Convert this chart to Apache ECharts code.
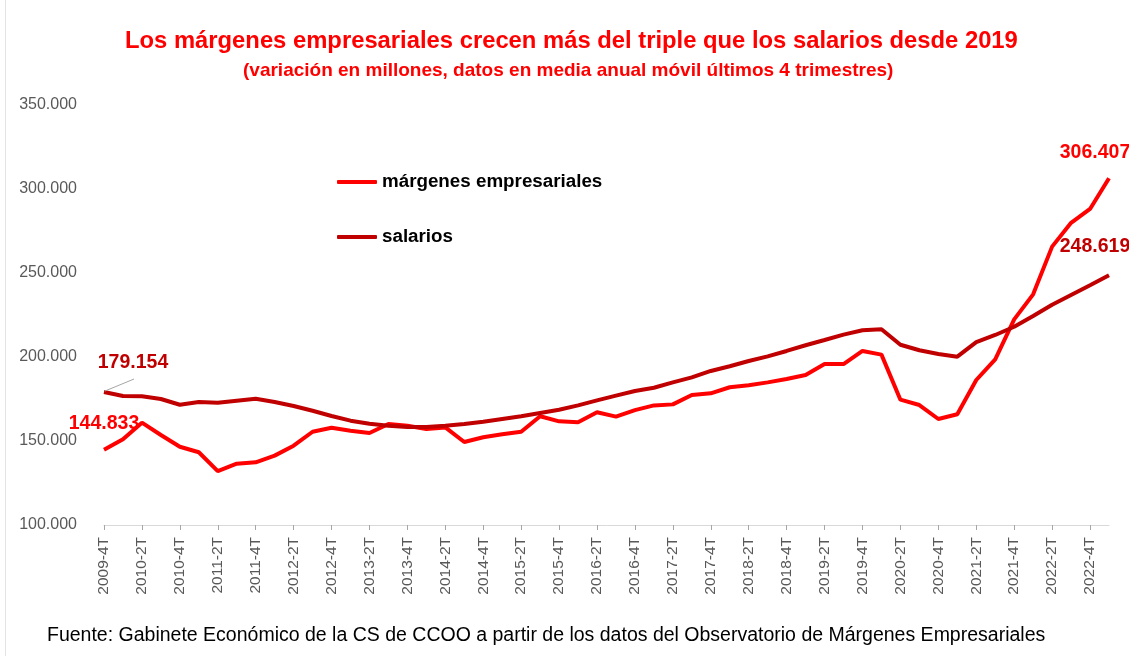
<!DOCTYPE html>
<html>
<head>
<meta charset="utf-8">
<script src="https://cdn.jsdelivr.net/npm/echarts@6/dist/echarts.min.js"></script>
<style>html,body{margin:0;padding:0;background:#fff}#c{width:1129px;height:656px}</style>
</head>
<body>
<div id="c"></div>
<script>
const categories = [
  '2009-4T','2010-1T','2010-2T','2010-3T','2010-4T','2011-1T','2011-2T','2011-3T','2011-4T',
  '2012-1T','2012-2T','2012-3T','2012-4T','2013-1T','2013-2T','2013-3T','2013-4T',
  '2014-1T','2014-2T','2014-3T','2014-4T','2015-1T','2015-2T','2015-3T','2015-4T',
  '2016-1T','2016-2T','2016-3T','2016-4T','2017-1T','2017-2T','2017-3T','2017-4T',
  '2018-1T','2018-2T','2018-3T','2018-4T','2019-1T','2019-2T','2019-3T','2019-4T',
  '2020-1T','2020-2T','2020-3T','2020-4T','2021-1T','2021-2T','2021-3T','2021-4T',
  '2022-1T','2022-2T','2022-3T','2022-4T','2023-1T'
];
const margenes = [
  144833,151000,160900,153600,146600,143300,132100,136500,137300,
  141300,147200,155500,157900,156100,154800,160100,159100,
  157100,158100,149400,152200,154000,155500,164700,161700,
  161100,167100,164500,168400,171200,171800,177400,178400,
  182000,183200,184900,186900,189300,195800,195800,203600,
  201400,174600,171400,163100,165900,186300,198600,222400,
  237300,265700,279900,288100,306407
];
const salarios = [
  179154,176800,176600,175000,171600,173200,172800,174000,175200,
  173200,170800,168000,164900,162100,160300,159100,158300,
  158300,159100,160100,161500,163100,164700,166700,168600,
  171200,174200,177000,179800,181700,184900,187900,191700,
  194500,197600,200400,203600,207000,210100,213300,215900,
  216500,207300,204000,201800,200200,208900,213100,218000,
  224400,231100,236900,242700,248619
];
const yTicks = {min: 100000, max: 350000, interval: 50000};

const fmt = v => String(Math.round(v)).replace(/\B(?=(\d{3})+(?!\d))/g, '.');
const FONT = 'Liberation Sans';
const last = categories.length - 1;

function buildData(arr, firstLabel, lastLabel) {
  return arr.map((v, i) => {
    if (i === 0) return {value: v, label: firstLabel};
    if (i === last) return {value: v, label: lastLabel};
    return v;
  });
}
const lblBase = {show: true, fontFamily: FONT, fontWeight: 'bold', fontSize: 19.5,
                 formatter: p => fmt(p.value)};

const chart = echarts.init(document.getElementById('c'), null, {renderer: 'canvas'});
chart.setOption({
  backgroundColor: '#fff',
  animation: false,
  title: [
    {text: 'Los márgenes empresariales crecen más del triple que los salarios desde 2019',
     left: 125, top: 29, padding: 0,
     textStyle: {color: '#FF0000', fontFamily: FONT, fontWeight: 'bold', fontSize: 23.8}},
    {text: '(variación en millones, datos en media anual móvil últimos 4 trimestres)',
     left: 243, top: 61, padding: 0,
     textStyle: {color: '#FF0000', fontFamily: FONT, fontWeight: 'bold', fontSize: 19}},
    {text: 'Fuente: Gabinete Económico de la CS de CCOO a partir de los datos del Observatorio de Márgenes Empresariales',
     left: 42, top: 621,
     textStyle: {color: '#000', fontFamily: FONT, fontWeight: 'normal', fontSize: 19.5}}
  ],
  graphic: [
    {type: 'rect', shape: {x: 5, y: 0, width: 1, height: 656}, style: {fill: '#e3e3e3'}, silent: true}
  ],
  legend: {
    orient: 'vertical', left: 332, top: 166, itemGap: 33,
    itemWidth: 40, itemHeight: 4,
    icon: 'roundRect',
    textStyle: {color: '#000', fontFamily: FONT, fontWeight: 'bold', fontSize: 18.8, lineHeight: 22},
    data: ['márgenes empresariales', 'salarios']
  },
  grid: {left: 104, right: 20, top: 105, bottom: 131, containLabel: false},
  xAxis: {
    type: 'category', data: categories, boundaryGap: false,
    axisLine: {lineStyle: {color: '#d9d9d9', width: 1}},
    axisTick: {show: true, interval: 1, length: 5, lineStyle: {color: '#a6a6a6'}},
    axisLabel: {interval: 1, rotate: 90, margin: 12, color: '#595959', fontFamily: FONT, fontSize: 15.5}
  },
  yAxis: {
    type: 'value', min: yTicks.min, max: yTicks.max, interval: yTicks.interval,
    axisLine: {show: false}, axisTick: {show: false},
    splitLine: {show: false},
    axisLabel: {color: '#595959', fontFamily: FONT, fontSize: 16, margin: 27, formatter: fmt}
  },
  series: [
    {
      name: 'márgenes empresariales', type: 'line', symbol: 'circle', symbolSize: 0.01, showSymbol: true,
      lineStyle: {color: '#FF0000', width: 4}, itemStyle: {color: '#FF0000'},
      label: {show: false},
      data: buildData(margenes,
        Object.assign({}, lblBase, {color: '#FF0000', position: 'top', distance: 16}),
        Object.assign({}, lblBase, {color: '#FF0000', position: 'top', distance: 16, offset: [-14, 0]}))
    },
    {
      name: 'salarios', type: 'line', symbol: 'circle', symbolSize: 0.01, showSymbol: true,
      lineStyle: {color: '#C00000', width: 4}, itemStyle: {color: '#C00000'},
      label: {show: false},
      data: buildData(salarios,
        Object.assign({}, lblBase, {color: '#C00000', position: 'top', distance: 19, offset: [29, 0]}),
        Object.assign({}, lblBase, {color: '#C00000', position: 'top', distance: 19, offset: [-14, 0]}))
    }
  ]
});

// leader line for the first "salarios" label, anchored on the data point via the chart's own scales
const p0 = chart.convertToPixel({gridIndex: 0}, [categories[0], salarios[0]]);
chart.setOption({
  graphic: [
    {type: 'rect', shape: {x: 5, y: 0, width: 1, height: 656}, style: {fill: '#e3e3e3'}, silent: true},
    {type: 'line', shape: {x1: p0[0] + 1, y1: p0[1] - 1, x2: p0[0] + 30, y2: p0[1] - 13},
     style: {stroke: '#a6a6a6', lineWidth: 1}, z: 10, silent: true}
  ]
});
</script>
</body>
</html>
